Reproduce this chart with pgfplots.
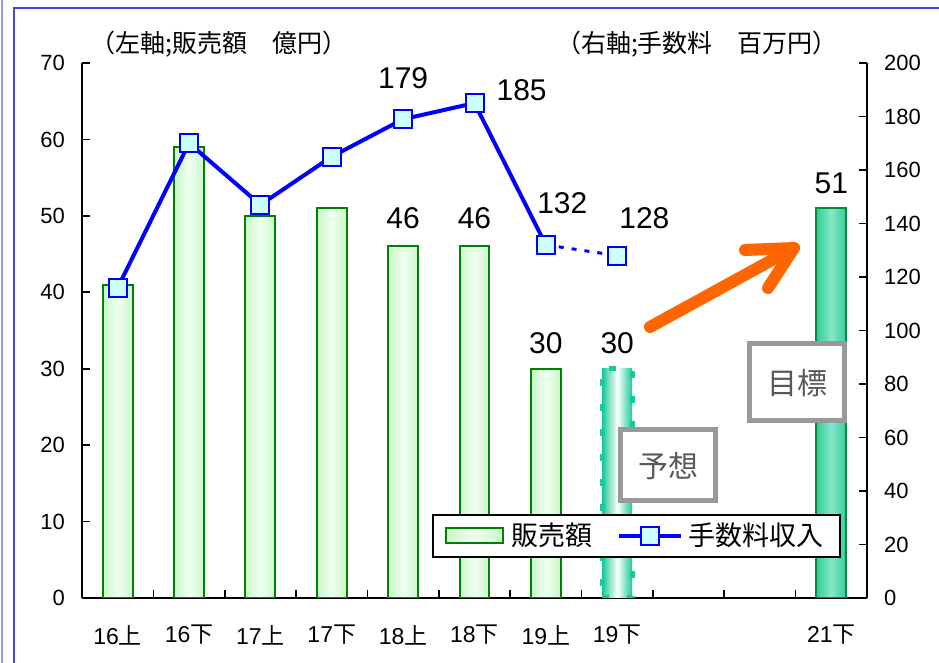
\documentclass[border=0pt]{standalone}
\usepackage{pgfplots}
\pgfplotsset{compat=1.18}
\usepackage{fontspec}
\setmainfont{Liberation Sans}
\newfontfamily\cjk{Noto Sans CJK JP}

\definecolor{barline}{HTML}{008000}
\definecolor{baredge}{HTML}{C8F6C8}
\definecolor{barmid}{HTML}{F0FFF0}
\definecolor{fcast}{HTML}{19C996}
\definecolor{goal}{HTML}{33CC99}
\definecolor{goalmid}{HTML}{85E8C8}
\definecolor{goalline}{HTML}{0A8A3A}
\definecolor{mk}{HTML}{CCFFFF}
\definecolor{arrowc}{HTML}{FF6600}
\definecolor{framec}{HTML}{4848D8}
\definecolor{boxgray}{HTML}{999999}
\definecolor{txtgray}{HTML}{595959}

\pgfplotsset{
  common/.style={
    at={(41pt,-299pt)}, anchor=south west,
    scale only axis, width=392.5pt, height=267.5pt,
    xmin=-0.5, xmax=10.5,
    tick align=inside,
    major tick length=4pt, minor tick length=4pt,
    tick style={black, line width=0.8pt},
    axis line style={-, line width=0.8pt},
    x axis line style={-}, y axis line style={-},
    tick label style={font=\fontsize{11}{13}\selectfont},
    /pgf/number format/assume math mode=true,
  },
  salesbar/.style={ybar, bar width=0.42, draw=barline, line width=1pt,
    left color=baredge, right color=baredge, middle color=barmid},
}

\begin{document}
\begin{tikzpicture}
\useasboundingbox (0pt,0pt) rectangle (469.5pt,-331.5pt);
\begin{scope}[x=0.5pt,y=-0.5pt]
  \draw[framec!55, line width=1pt] (1.5,0) -- (1.5,663);
  \draw[framec, line width=1pt] (14,663) -- (14,8) -- (939,8);
\end{scope}

% left axis: sales (bars)
\begin{axis}[common,
  ymin=0, ymax=70, ytick={0,10,...,70},
  axis x line*=bottom, axis y line*=left,
  xtick={0,...,10},
  xticklabels={16{\cjk 上},16{\cjk 下},17{\cjk 上},17{\cjk 下},18{\cjk 上},18{\cjk 下},19{\cjk 上},19{\cjk 下},,,21{\cjk 下}},
  xticklabel style={yshift=-10pt, font=\fontsize{11.5}{13}\selectfont},
  major x tick style={draw=none},
  minor xtick={0.5,1.5,...,9.5},
  yticklabel style={xshift=-5pt},
]
% one plot per bar so that each bar gets its own shading
\addplot[salesbar] coordinates {(0,41)};
\addplot[salesbar] coordinates {(1,59)};
\addplot[salesbar] coordinates {(2,50)};
\addplot[salesbar] coordinates {(3,51)};
\addplot[salesbar] coordinates {(4,46)};
\addplot[salesbar] coordinates {(5,46)};
\addplot[salesbar] coordinates {(6,30)};
\addplot[ybar, bar width=0.42, draw=fcast, line width=2.5pt, dash pattern=on 3.5pt off 9pt,
  left color=fcast, right color=fcast, middle color=white]
  coordinates {(7,30)};
\addplot[ybar, bar width=0.42, draw=goalline, line width=1pt,
  left color=goal, right color=goal, middle color=goalmid]
  coordinates {(10,51)};
\begin{scope}[font=\fontsize{15}{17}\selectfont]
  \node at (axis cs:4,49.7) {46};
  \node at (axis cs:5,49.7) {46};
  \node at (axis cs:6,33.4) {30};
  \node at (axis cs:7,33.4) {30};
  \node at (axis cs:10,54.3) {51};
\end{scope}
\end{axis}

% right axis: fees (line)
\begin{axis}[common,
  ymin=0, ymax=200, ytick={0,20,...,200},
  hide x axis, axis y line*=right,
  yticklabel style={xshift=5pt},
  legend columns=2,
  legend style={at={(0.706,0.116)}, anchor=center, draw=black, line width=1pt,
    font=\cjk\fontsize{13.5}{15}\selectfont, inner xsep=6pt, inner ysep=2pt,
    /tikz/every even column/.append style={column sep=10pt}},
]
\addlegendimage{legend image code/.code={
  \draw[draw=barline, line width=1pt, left color=baredge, right color=baredge, middle color=barmid]
    (0pt,-3.75pt) rectangle (28.5pt,3.75pt);}}
\addplot[blue, line width=1.5pt, dash pattern=on 2.5pt off 4pt, forget plot]
  coordinates {(6,132)(7,128)};
\addplot[blue, line width=2pt, mark=square*, mark size=4.5pt,
  mark options={fill=mk, draw=blue, line width=1pt, solid},
  legend image code/.code={\draw[mark repeat=2, mark phase=2] plot coordinates {(0pt,0pt)(15.5pt,0pt)(31pt,0pt)};}]
  coordinates {(0,116)(1,170)(2,147)(3,165)(4,179)(5,185)(6,132)};
\addplot[only marks, mark=square*, mark size=4.5pt,
  mark options={fill=mk, draw=blue, line width=1pt}, forget plot]
  coordinates {(7,128)};
\begin{scope}[font=\fontsize{15}{17}\selectfont]
  \node at (axis cs:4,194.4) {179};
  \node at (axis cs:5.66,190) {185};
  \node at (axis cs:6.23,147.7) {132};
  \node at (axis cs:7.38,142) {128};
\end{scope}
\legend{\hspace{2pt}販売額, \hspace{1pt}手数料収入}
\end{axis}

\begin{scope}[x=0.5pt,y=-0.5pt]
  \node[font=\cjk\fontsize{12.5}{14}\selectfont] at (219,44) {（左軸;販売額　億円）};
  \node[font=\cjk\fontsize{12.5}{14}\selectfont] at (697,44) {（右軸;手数料　百万円）};
  \draw[boxgray, line width=2.5pt, fill=white] (620.5,429.5) rectangle (715.5,500.5);
  \node[txtgray, font=\cjk\fontsize{15}{17}\selectfont] at (668,466) {予想};
  \draw[boxgray, line width=2.5pt, fill=white] (749.5,343.5) rectangle (844.5,420.5);
  \node[txtgray, font=\cjk\fontsize{15}{17}\selectfont] at (797,383) {目標};
  \draw[arrowc, line width=6pt, line cap=round, line join=round] (650,327) -- (794,248);
  \draw[arrowc, line width=6pt, line cap=round, line join=round] (745,250) -- (794,248) -- (768,288);
\end{scope}
\end{tikzpicture}
\end{document}
